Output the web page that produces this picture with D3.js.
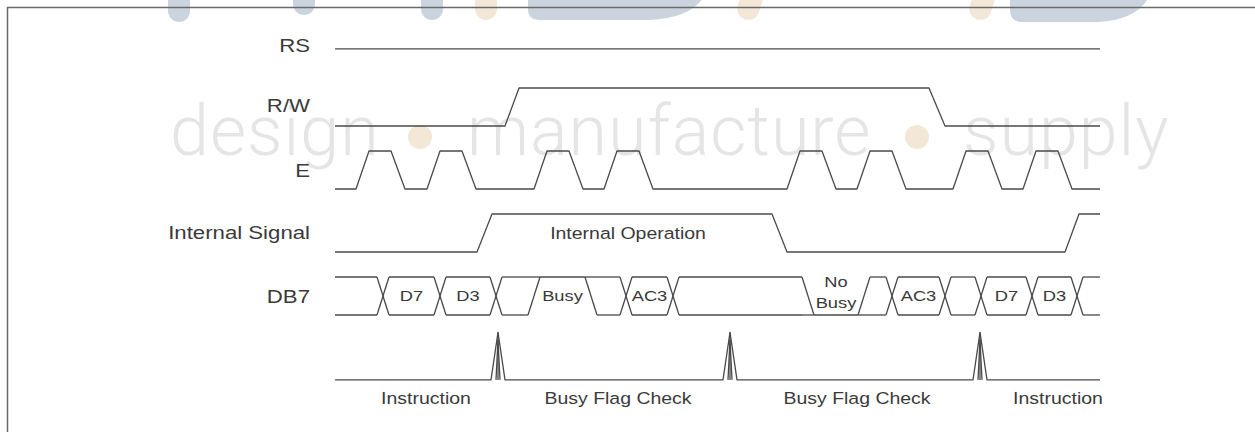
<!DOCTYPE html>
<html>
<head>
<meta charset="utf-8">
<script src="https://cdn.jsdelivr.net/npm/d3@7"></script>
<style>
  body { margin: 0; background: #fff; }
  text { font-family: "Liberation Sans", Arial, sans-serif; fill: #3a3a3a; }
</style>
</head>
<body>
<div id="chart"></div>
<script>
// signal rows (left labels)
const rowNames = ["RS", "R/W", "E", "Internal Signal", "DB7"];

// time runs 0..765 (arbitrary units along the diagram)
const timeEnd = 765;

// waveforms as [time, level] pairs, level 1 = high, 0 = low
const rsWave = [[0, 0.37], [765, 0.37]];
const rwWave = [[0, 0], [170, 0], [184, 1], [594, 1], [610, 0], [765, 0]];
const ePulseStarts = [21, 92, 199, 269, 452, 522, 618, 688];
const ePulseShape = [13, 22, 14]; // rise, high, fall
const internalWave = [[0, 0], [142, 0], [157, 1], [437, 1], [452, 0], [730, 0], [744, 1], [765, 1]];
const internalLabel = "Internal Operation";
const internalLabelTime = 293;

// DB7 bus: edges where a transition starts, states between them and their labels
const db7Edges = [42, 99, 155, 193, 250, 285, 332, 467, 523, 551, 604, 640, 691, 736];
const db7States = ["bus", "bus", "bus", "bus", "high", "bus", "bus", "bus", "low", "bus", "bus", "bus", "bus", "bus", "bus"];
const db7Labels = ["", "D7", "D3", "", "Busy", "", "AC3", "", "No|Busy", "", "AC3", "", "D7", "D3", ""];
const db7EdgeWidth = 12;

// operation row: strobe spikes and the phase names between them
const opPulses = [163, 395, 645];
const opLabels = ["Instruction", "Busy Flag Check", "Busy Flag Check", "Instruction"];
const opLabelTimes = [91, 283, 522, 723];

// watermark
const wmWords = ["design", "manufacture", "supply"];

const W = 1255, H = 432;
const svg = d3.select("#chart").append("svg")
  .attr("width", W).attr("height", H);

const x = d3.scaleLinear().domain([0, timeEnd]).range([335, 1100]);
const rowY = d3.scaleLinear().domain([0, 5]).range([44, 359]);
const lvl = d3.scaleLinear().domain([0, 1]).range([19, -19]);
const yOf = (row, v) => rowY(row) + lvl(v);

// ---- watermark (behind everything) ----
const wm = svg.append("g");
const blue = "#cbd4de", tan = "#f3e8d7";
wm.append("rect").attr("x", 168).attr("y", -30).attr("width", 22).attr("height", 52).attr("rx", 11).attr("fill", blue);
wm.append("rect").attr("x", 293).attr("y", -30).attr("width", 22).attr("height", 45).attr("rx", 11).attr("fill", blue);
wm.append("rect").attr("x", 421).attr("y", -30).attr("width", 22).attr("height", 50).attr("rx", 11).attr("fill", blue);
wm.append("rect").attr("x", 475).attr("y", -30).attr("width", 22).attr("height", 50).attr("rx", 11).attr("fill", tan);
wm.append("path").attr("d", "M528,-5 L528,9 Q528,20 540,20 L650,20 Q692,18 705,-5 Z").attr("fill", blue);
wm.append("rect").attr("x", 737).attr("y", -30).attr("width", 22).attr("height", 50).attr("rx", 11)
  .attr("transform", "rotate(18,748,10)").attr("fill", tan);
wm.append("rect").attr("x", 969).attr("y", -30).attr("width", 22).attr("height", 50).attr("rx", 11)
  .attr("transform", "rotate(18,980,10)").attr("fill", tan);
wm.append("path").attr("d", "M1010,-5 L1010,10 Q1010,22 1022,22 L1098,22 Q1138,20 1150,-5 Z").attr("fill", blue);

const wmX = [170, 467, 963];
wm.selectAll("text.wm").data(wmWords).join("text")
  .attr("class", "wm")
  .attr("x", (d, i) => wmX[i]).attr("y", 155)
  .style("font-family", "Roboto, 'Open Sans', sans-serif")
  .style("font-weight", 300)
  .style("font-size", "70px")
  .style("letter-spacing", "1px")
  .style("fill", "#e5e5e5")
  .text(d => d);
wm.selectAll("circle").data([420, 917]).join("circle")
  .attr("cx", d => d).attr("cy", 137).attr("r", 12).attr("fill", tan);

// ---- frame ----
svg.append("path").attr("d", `M7.5,${H} L7.5,7.5 L${W},7.5`)
  .attr("fill", "none").attr("stroke", "#6a6a6a").attr("stroke-width", 1.5);

// text helper: the original lettering is a little wide
function label(g, px, py, str, size, anchor, sx) {
  return g.append("text")
    .attr("transform", `translate(${px},${py}) scale(${sx},1)`)
    .attr("text-anchor", anchor)
    .attr("dy", "0.35em")
    .style("font-size", size + "px")
    .text(str);
}

const lineStyle = sel => sel.attr("fill", "none").attr("stroke", "#4a4a4a").attr("stroke-width", 1.3)
  .attr("stroke-linejoin", "round");

// ---- row labels ----
const labels = svg.append("g");
const labelY = [46, 106, 171, 233, 297];
rowNames.forEach((n, i) => label(labels, 310, labelY[i], n, 18.5, "end", 1.2));

// ---- simple waveforms ----
const waves = svg.append("g");
function drawWave(row, pts) {
  const line = d3.line().x(d => x(d[0])).y(d => yOf(row, d[1]));
  waves.append("path").attr("d", line(pts)).call(lineStyle);
}
drawWave(0, rsWave);
drawWave(1, rwWave);

const ePts = [[0, 0]];
ePulseStarts.forEach(s => {
  const [r, h, f] = ePulseShape;
  ePts.push([s, 0], [s + r, 1], [s + r + h, 1], [s + r + h + f, 0]);
});
ePts.push([timeEnd, 0]);
drawWave(2, ePts);

drawWave(3, internalWave);
label(waves, x(internalLabelTime), rowY(3), internalLabel, 16.5, "middle", 1.18);

// ---- DB7 bus ----
const bus = svg.append("g");
const segs = [];
const levelsOf = s => s === "bus" ? [1, 0] : s === "high" ? [1] : [0];
db7States.forEach((s, i) => {
  const t0 = i === 0 ? 0 : db7Edges[i - 1] + db7EdgeWidth;
  const t1 = i === db7States.length - 1 ? timeEnd : db7Edges[i];
  levelsOf(s).forEach(v => segs.push([[t0, v], [t1, v]]));
  if (i < db7Edges.length) {
    const e = db7Edges[i], n = db7States[i + 1];
    if (s === "bus" && n === "bus") {
      segs.push([[e, 1], [e + db7EdgeWidth, 0]], [[e, 0], [e + db7EdgeWidth, 1]]);
    } else {
      levelsOf(s).forEach(a => levelsOf(n).forEach(b =>
        segs.push([[e, a], [e + db7EdgeWidth, b]])));
    }
  }
});
const busLine = d3.line().x(d => x(d[0])).y(d => yOf(4, d[1]));
bus.selectAll("path").data(segs).join("path").attr("d", busLine).call(lineStyle);

db7Labels.forEach((l, i) => {
  if (!l) return;
  const t0 = i === 0 ? 0 : db7Edges[i - 1] + db7EdgeWidth;
  const t1 = i === db7States.length - 1 ? timeEnd : db7Edges[i];
  const cx = x((t0 + t1) / 2);
  const parts = l.split("|");
  if (parts.length === 1) {
    label(bus, cx, rowY(4), l, 15.5, "middle", 1.18);
  } else {
    label(bus, cx, rowY(4) - 14, parts[0], 15.5, "middle", 1.18);
    label(bus, cx, rowY(4) + 7, parts[1], 15.5, "middle", 1.18);
  }
});

// ---- operation row ----
const op = svg.append("g");
const base = -0.05, peak = 1.2, half = 7;
const opPts = [[0, base]];
opPulses.forEach(p => opPts.push([p - half, base], [p, peak], [p + half, base]));
opPts.push([timeEnd, base]);
const opLine = d3.line().x(d => x(d[0])).y(d => yOf(5, d[1]));
op.append("path").attr("d", opLine(opPts)).call(lineStyle);
opPulses.forEach(p => {
  op.append("path").attr("d", opLine([[p - 2, base], [p, peak - 0.2], [p + 2, base]])).call(lineStyle);
  op.append("path").attr("d", opLine([[p, peak], [p, base]])).call(lineStyle);
});
opLabels.forEach((l, i) => label(op, x(opLabelTimes[i]), rowY(5) + 39, l, 16.5, "middle", 1.18));
</script>
</body>
</html>
